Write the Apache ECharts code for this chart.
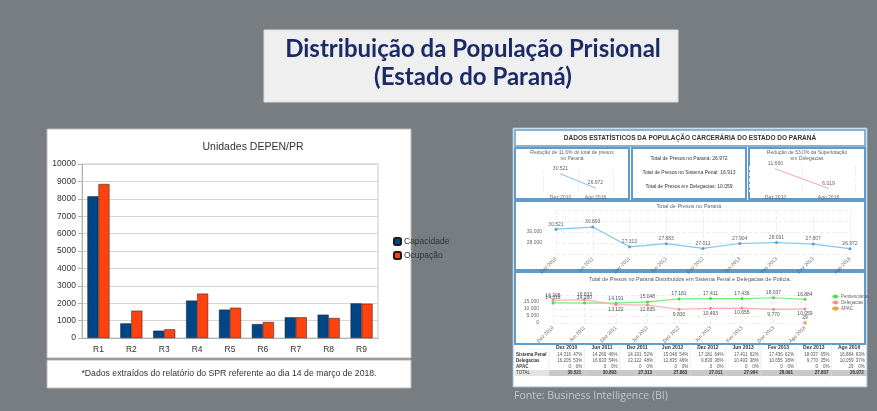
<!DOCTYPE html>
<html>
<head>
<meta charset="utf-8">
<script src="https://cdn.jsdelivr.net/npm/echarts@6/dist/echarts.min.js"></script>
<style>
  html, body { margin: 0; padding: 0; background: #787d82; }
  #slide { width: 877px; height: 411px; }
</style>
</head>
<body>
<div id="slide"></div>
<script>
// grafico DEPEN/PR
const regioes = ['R1', 'R2', 'R3', 'R4', 'R5', 'R6', 'R7', 'R8', 'R9'];
const capacidade = [8140, 840, 420, 2150, 1630, 800, 1190, 1340, 1990];
const ocupacao = [8850, 1570, 500, 2550, 1740, 920, 1190, 1150, 1970];

// painel BI
const periodos = ['Dez 2010', 'Jun 2011', 'Dez 2011', 'Jun 2012', 'Dez 2012', 'Jun 2013', 'Fev 2013', 'Dez 2013', 'Ago 2016'];
const totalPresos = [30521, 30893, 27313, 27883, 27011, 27904, 28091, 27807, 26972];
const sistemaPenal = [14316, 14260, 14191, 15048, 17181, 17411, 17436, 18037, 16884];
const delegacias = [16205, 16633, 13122, 12835, 9830, 10493, 10655, 9770, 10059];
const apac = [null, null, null, null, null, null, null, null, 29];

const periodosReducao = ['Dez 2010', 'Ago 2016'];
const reducaoTotal = [30521, 26972];
const reducaoDelegacias = [11660, 6019];
const resumo = ['Total de Presos no Paraná: 26.972', 'Total de Presos no Sistema Penal: 16.913', 'Total de Presos em Delegacias: 10.059'];

function fmt(v) {
    return String(v).replace(/\B(?=(\d{3})+(?!\d))/g, '.');
}

const azul = '#5f9ccb';
const tiny = { fontSize: 5, color: '#666', fontFamily: 'Liberation Sans' };

let myChart = echarts.init(document.getElementById('slide'));

// caixas e textos do slide
let graphic = [
    { type: 'rect', z: -5, shape: { x: 264, y: 30, width: 414, height: 72 }, style: { fill: '#efefef', stroke: '#dcdcdc', lineWidth: 1 } },
    { type: 'text', z: 5, x: 473, y: 49, style: { text: 'Distribuição da População Prisional', font: 'bold 24px Lato', fill: '#1b2b68', align: 'center', verticalAlign: 'middle' } },
    { type: 'text', z: 5, x: 473, y: 77, style: { text: '(Estado do Paraná)', font: 'bold 24px Lato', fill: '#1b2b68', align: 'center', verticalAlign: 'middle' } },

    { type: 'rect', z: -5, shape: { x: 47, y: 129, width: 364, height: 229 }, style: { fill: '#fff', stroke: '#b8b8b8', lineWidth: 1 } },
    { type: 'rect', z: -5, shape: { x: 47, y: 360, width: 364, height: 28 }, style: { fill: '#fff', stroke: '#b8b8b8', lineWidth: 1 } },
    { type: 'text', z: 5, x: 229, y: 374, style: { text: '*Dados extraídos do relatório do SPR referente ao dia 14 de março de 2018.', font: '8.7px Liberation Sans', fill: '#333', align: 'center', verticalAlign: 'middle' } },

    { type: 'rect', z: -6, shape: { x: 513, y: 128, width: 354, height: 259 }, style: { fill: '#fff', stroke: '#9cb9d3', lineWidth: 1 } },
    { type: 'rect', z: -5, shape: { x: 515, y: 130, width: 350, height: 16 }, style: { fill: '#fff', stroke: azul, lineWidth: 1.5 } },
    { type: 'text', z: 5, x: 690, y: 138, style: { text: 'DADOS ESTATÍSTICOS DA POPULAÇÃO CARCERÁRIA DO ESTADO DO PARANÁ', font: 'bold 6.5px Liberation Sans', fill: '#333', align: 'center', verticalAlign: 'middle' } },
    { type: 'rect', z: -5, shape: { x: 515, y: 148, width: 114, height: 51 }, style: { fill: '#fff', stroke: azul, lineWidth: 2 } },
    { type: 'rect', z: -5, shape: { x: 632, y: 148, width: 114, height: 51 }, style: { fill: '#fff', stroke: azul, lineWidth: 2 } },
    { type: 'rect', z: -5, shape: { x: 749, y: 148, width: 116, height: 51 }, style: { fill: '#fff', stroke: azul, lineWidth: 2 } },
    { type: 'rect', z: -5, shape: { x: 515, y: 201, width: 350, height: 69 }, style: { fill: '#fff', stroke: azul, lineWidth: 2 } },
    { type: 'rect', z: -5, shape: { x: 515, y: 272, width: 350, height: 72 }, style: { fill: '#fff', stroke: azul, lineWidth: 2 } },
    { type: 'text', z: 5, x: 572, y: 156, style: { text: 'Redução de 11,6% do total de presos\nno Paraná', font: '5px Liberation Sans', fill: '#666', align: 'center', verticalAlign: 'middle', lineHeight: 6 } },
    { type: 'text', z: 5, x: 807, y: 156, style: { text: 'Redução de 53,0% da Superlotação\nem Delegacias', font: '5px Liberation Sans', fill: '#666', align: 'center', verticalAlign: 'middle', lineHeight: 6 } },
    { type: 'text', z: 5, x: 689, y: 206, style: { text: 'Total de Presos no Paraná', font: '5.5px Liberation Sans', fill: '#666', align: 'center', verticalAlign: 'middle' } },
    { type: 'text', z: 5, x: 690, y: 279, style: { text: 'Total de Presos no Paraná Distribuídos em Sistema Penal e Delegacias de Polícia.', font: '5.5px Liberation Sans', fill: '#555', align: 'center', verticalAlign: 'middle' } },
    { type: 'text', z: 5, x: 514, y: 396, style: { text: 'Fonte: Business Intelligence (BI)', font: '10.5px "Open Sans"', fill: '#c3c7ca', align: 'left', verticalAlign: 'middle' } }
];

resumo.forEach(function (linha, i) {
    graphic.push({ type: 'text', z: 5, x: 689, y: 159 + i * 14, style: { text: linha, font: '5px Liberation Sans', fill: '#333', align: 'center', verticalAlign: 'middle' } });
});

// tabela
const colX = 549, colW = 35.3;
const linhas = [
    { nome: 'Sistema Penal', dados: sistemaPenal, y: 355 },
    { nome: 'Delegacias', dados: delegacias, y: 361 },
    { nome: 'APAC', dados: apac, y: 367 }
];
graphic.push({ type: 'rect', z: -4, shape: { x: colX, y: 370, width: colW * 9, height: 6 }, style: { fill: '#c9c9c9' } });
graphic.push({ type: 'rect', z: -4, shape: { x: 515, y: 370, width: 34, height: 6 }, style: { fill: '#e3e3e3' } });
linhas.forEach(function (l) {
    graphic.push({ type: 'text', z: 5, x: 516, y: l.y, style: { text: l.nome, font: 'bold 4.5px Liberation Sans', fill: '#333', verticalAlign: 'middle' } });
});
graphic.push({ type: 'text', z: 5, x: 516, y: 373, style: { text: 'TOTAL', font: '4.5px Liberation Sans', fill: '#333', verticalAlign: 'middle' } });
periodos.forEach(function (p, i) {
    let x0 = colX + i * colW;
    graphic.push({ type: 'line', z: -3, shape: { x1: x0, y1: 344, x2: x0, y2: 377 }, style: { stroke: '#dcdcdc', lineWidth: 0.5 } });
    graphic.push({ type: 'text', z: 5, x: x0 + colW / 2, y: 348, style: { text: p, font: 'bold 5px Liberation Sans', fill: '#333', align: 'center', verticalAlign: 'middle' } });
    linhas.forEach(function (l) {
        let v = l.dados[i] || 0;
        graphic.push({ type: 'text', z: 5, x: x0 + 22, y: l.y, style: { text: fmt(v), font: '4.5px Liberation Sans', fill: '#555', align: 'right', verticalAlign: 'middle' } });
        graphic.push({ type: 'text', z: 5, x: x0 + colW - 2, y: l.y, style: { text: Math.round(v / totalPresos[i] * 100) + '%', font: '4.5px Liberation Sans', fill: '#555', align: 'right', verticalAlign: 'middle' } });
    });
    graphic.push({ type: 'text', z: 5, x: x0 + colW - 3, y: 373, style: { text: fmt(totalPresos[i]), font: 'bold 4.5px Liberation Sans', fill: '#333', align: 'right', verticalAlign: 'middle' } });
});

const miniX = function (gi, data) {
    return {
        type: 'category', gridIndex: gi, data: data, boundaryGap: true,
        axisLine: { show: false }, axisTick: { show: false },
        axisLabel: Object.assign({ margin: 3 }, tiny),
        splitLine: { show: true, interval: 0, lineStyle: { color: '#eee', type: 'dashed' } }
    };
};
const rotX = function (gi) {
    return {
        type: 'category', gridIndex: gi, data: periodos, boundaryGap: false,
        axisLine: { show: false }, axisTick: { show: false },
        axisLabel: Object.assign({ rotate: 45, margin: 4, interval: 0 }, tiny),
        splitLine: { show: true, lineStyle: { color: '#eee', type: 'dashed' } }
    };
};
const rotulo = function (p) { return fmt(p.value); };

let option = {
    animation: false,
    backgroundColor: '#787d82',
    graphic: graphic,
    title: [{
        text: 'Unidades DEPEN/PR',
        left: 248, top: 137, textAlign: 'center',
        textStyle: { fontSize: 10.5, fontWeight: 'normal', color: '#333', fontFamily: 'Liberation Sans' }
    }],
    legend: [{
        orient: 'vertical', left: 388, top: 232,
        itemWidth: 7, itemHeight: 7, itemGap: 5,
        data: ['Capacidade', 'Ocupação'],
        textStyle: { fontSize: 8.5, color: '#333', fontFamily: 'Liberation Sans', padding: [0, 0, 0, -2] }
    }, {
        orient: 'vertical', left: 826, top: 289,
        itemWidth: 7, itemHeight: 5, itemGap: 1,
        data: ['Penitenciárias', 'Delegacias', 'APAC'],
        textStyle: { fontSize: 4.5, color: '#666', fontFamily: 'Liberation Sans', padding: [0, 0, 0, -3] }
    }],
    grid: [
        { left: 82, top: 164, width: 296, height: 174, show: true, borderColor: '#c8c8c8', borderWidth: 1 },
        { left: 543, top: 170, width: 70, height: 22 },
        { left: 749, top: 166, width: 106, height: 26 },
        { left: 556, top: 210, width: 294, height: 44 },
        { left: 553, top: 295, width: 252, height: 28 }
    ],
    xAxis: [
        {
            type: 'category', gridIndex: 0, data: regioes,
            axisLine: { lineStyle: { color: '#b3b3b3' } },
            axisTick: { length: 4, lineStyle: { color: '#b3b3b3' } },
            axisLabel: { fontSize: 8.5, color: '#333', fontFamily: 'Liberation Sans', margin: 7 }
        },
        miniX(1, periodosReducao),
        miniX(2, periodosReducao),
        rotX(3),
        rotX(4)
    ],
    yAxis: [
        {
            type: 'value', gridIndex: 0, min: 0, max: 10000, interval: 1000,
            axisLine: { show: true, lineStyle: { color: '#b3b3b3' } },
            axisTick: { show: true, length: 4, lineStyle: { color: '#b3b3b3' } },
            axisLabel: { fontSize: 8.5, color: '#333', fontFamily: 'Liberation Sans', margin: 6, formatter: function (v) { return String(v); } },
            splitLine: { lineStyle: { color: '#d6d6d6' } }
        },
        { type: 'value', gridIndex: 1, min: 26000, max: 31500, show: false },
        { type: 'value', gridIndex: 2, min: 5000, max: 12500, show: false },
        {
            type: 'value', gridIndex: 3, min: 26000, max: 34000, interval: 2000,
            axisLine: { show: false }, axisTick: { show: false },
            axisLabel: Object.assign({ margin: 14, formatter: function (v) { return (v === 28000 || v === 30000) ? fmt(v) : ''; } }, tiny),
            splitLine: { lineStyle: { color: '#eee', type: 'dashed' } }
        },
        {
            type: 'value', gridIndex: 4, min: 0, max: 20000, interval: 5000,
            axisLine: { show: false }, axisTick: { show: false },
            axisLabel: Object.assign({ margin: 14, formatter: function (v) { return v < 20000 ? fmt(v) : ''; } }, tiny),
            splitLine: { lineStyle: { color: '#eee', type: 'dashed' } }
        }
    ],
    series: [
        {
            name: 'Capacidade', type: 'bar', xAxisIndex: 0, yAxisIndex: 0,
            data: capacidade, barGap: '0%', barCategoryGap: '33%',
            itemStyle: { color: '#004586', borderColor: '#1c1c1c', borderWidth: 0.5 }
        },
        {
            name: 'Ocupação', type: 'bar', xAxisIndex: 0, yAxisIndex: 0,
            data: ocupacao, barGap: '0%', barCategoryGap: '33%',
            itemStyle: { color: '#ff420e', borderColor: '#1c1c1c', borderWidth: 0.5 }
        },
        {
            type: 'line', xAxisIndex: 1, yAxisIndex: 1, data: reducaoTotal,
            symbol: 'circle', symbolSize: 1, itemStyle: { color: '#7fc1e6' },
            lineStyle: { color: '#7fc1e6', width: 1 },
            label: { show: true, position: 'top', formatter: rotulo, fontSize: 5, color: '#666', distance: 2 }
        },
        {
            type: 'line', xAxisIndex: 2, yAxisIndex: 2, data: reducaoDelegacias,
            symbol: 'circle', symbolSize: 1, itemStyle: { color: '#f6a6a6' },
            lineStyle: { color: '#f6a6a6', width: 1 },
            label: { show: true, position: 'top', formatter: rotulo, fontSize: 5, color: '#666', distance: 2 }
        },
        {
            type: 'line', xAxisIndex: 3, yAxisIndex: 3, data: totalPresos,
            symbol: 'circle', symbolSize: 3, itemStyle: { color: '#4ba3dc' },
            lineStyle: { color: '#86c6ea', width: 1.2 },
            label: { show: true, position: 'top', formatter: rotulo, fontSize: 5, color: '#666', distance: 1 }
        },
        {
            name: 'Penitenciárias', type: 'line', xAxisIndex: 4, yAxisIndex: 4, data: sistemaPenal,
            symbol: 'circle', symbolSize: 3, itemStyle: { color: '#44dd44' },
            lineStyle: { color: '#77ee77', width: 1.2 },
            label: { show: true, position: 'top', formatter: rotulo, fontSize: 5, color: '#555', distance: 1 }
        },
        {
            name: 'Delegacias', type: 'line', xAxisIndex: 4, yAxisIndex: 4,
            data: delegacias.map(function (v, i) {
                return { value: v, label: { position: v < sistemaPenal[i] ? 'bottom' : 'top' } };
            }),
            symbol: 'circle', symbolSize: 3, itemStyle: { color: '#f28b8b' },
            lineStyle: { color: '#f7b0b0', width: 1.2 },
            label: { show: true, formatter: rotulo, fontSize: 5, color: '#555', distance: 1 }
        },
        {
            name: 'APAC', type: 'line', xAxisIndex: 4, yAxisIndex: 4, data: apac,
            symbol: 'rect', symbolSize: 3, itemStyle: { color: '#f0a040' },
            label: { show: true, position: 'top', formatter: function (p) { return p.value; }, fontSize: 5, color: '#555', distance: 1 }
        }
    ]
};

myChart.setOption(option, true);
window.addEventListener('resize', function () {
    myChart.resize();
});
</script>
</body>
</html>
